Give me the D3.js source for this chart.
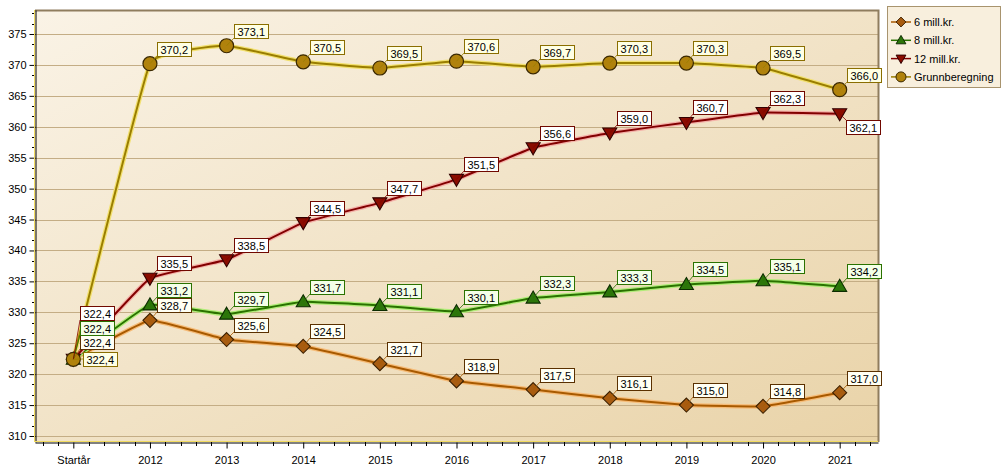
<!DOCTYPE html>
<html><head><meta charset="utf-8">
<script src="https://cdn.jsdelivr.net/npm/d3@7"></script>
<style>
html,body{margin:0;padding:0;background:#fff;}
svg{display:block;font-family:"Liberation Sans",Arial,sans-serif;}
</style></head>
<body>
<svg id="c" width="1008" height="470"></svg>
<script>
const categories = ["Startår","2012","2013","2014","2015","2016","2017","2018","2019","2020","2021"];
const seriesNames = ["6 mill.kr.","8 mill.kr.","12 mill.kr.","Grunnberegning"];
const values6  = [322.4,328.7,325.6,324.5,321.7,318.9,317.5,316.1,315.0,314.8,317.0];
const values8  = [322.4,331.2,329.7,331.7,331.1,330.1,332.3,333.3,334.5,335.1,334.2];
const values12 = [322.4,335.5,338.5,344.5,347.7,351.5,356.6,359.0,360.7,362.3,362.1];
const valuesG  = [322.4,370.2,373.1,370.5,369.5,370.6,369.7,370.3,370.3,369.5,366.0];
const yTicks = [310,315,320,325,330,335,340,345,350,355,360,365,370,375];
const fmt = v => v.toFixed(1).replace(".", ",");

const styles = [
  {line:"#a85a00", glow:"#f6bc78", fill:"#a85c10", stroke:"#3c2000", sym:"diamond", boxFill:"#fffff4", boxStroke:"#5a3000"},
  {line:"#2a7200", glow:"#b0ec78", fill:"#2c760a", stroke:"#0c2c00", sym:"up", boxFill:"#f4ffe8", boxStroke:"#2a7200"},
  {line:"#820000", glow:"#f4b0a8", fill:"#8a0c00", stroke:"#300000", sym:"down", boxFill:"#ffffff", boxStroke:"#700800"},
  {line:"#9a7e00", glow:"#f2e070", fill:"#b0820c", stroke:"#3a2800", sym:"circle", boxFill:"#ffffe4", boxStroke:"#8a6e00"}
];
const allValues = [values6, values8, values12, valuesG];
// label placement exceptions (layout only)
const labelBelow = [{series:2, index:10}];

const svg = d3.select("#c");
const L = 35, R = 878, T = 10, B = 442;
const x = d3.scalePoint().domain(categories).range([L, R]).padding(0.5);
const y = d3.scaleLinear().domain([309.03, 378.88]).range([B, T]);

const defs = svg.append("defs");
const grad = defs.append("linearGradient").attr("id","bg").attr("x1","0").attr("y1","0").attr("x2","1").attr("y2","1");
grad.append("stop").attr("offset","0").attr("stop-color","#faf3e6");
grad.append("stop").attr("offset","1").attr("stop-color","#e9d3a8");

svg.append("rect").attr("x",L).attr("y",T).attr("width",R-L).attr("height",B-T).attr("fill","url(#bg)");

// grid
svg.append("g").selectAll("line").data(yTicks).join("line")
  .attr("x1",L).attr("x2",R).attr("y1",d=>Math.round(y(d))+0.5).attr("y2",d=>Math.round(y(d))+0.5)
  .attr("stroke","#c4ad85").attr("stroke-width",1);

// border top/right
svg.append("path").attr("d",`M${L},${T+0.5}H${R+0.5}V${B}`).attr("fill","none").attr("stroke","#8f7d5e").attr("stroke-width",2);

// y axis
const yAxis = svg.append("g").attr("transform",`translate(${L+0.5},0)`)
  .call(d3.axisLeft(y).tickValues(yTicks).tickSize(6).tickSizeOuter(0).tickPadding(3).tickFormat(d3.format("d")));
yAxis.select(".domain").attr("stroke","#000");
yAxis.selectAll("text").attr("font-size",11).attr("fill","#000").attr("font-family","Liberation Sans, Arial, sans-serif");
const yMinor = [];
{
  const st = 5/3;
  for (let k = -3; k <= 45; k++) {
    const v = 310 + k*st;
    if (v < 309.03 || v > 378.88) continue;
    if (Math.abs(k % 3) === 0) continue;
    yMinor.push(v);
  }
}
svg.append("g").selectAll("line").data(yMinor).join("line")
  .attr("x1",L-3).attr("x2",L).attr("y1",d=>Math.round(y(d))+0.5).attr("y2",d=>Math.round(y(d))+0.5).attr("stroke","#000");
svg.append("line").attr("x1",L-0.5).attr("x2",L-0.5).attr("y1",T).attr("y2",B).attr("stroke","#f2dc60").attr("stroke-width",1);

// x axis
const xAxis = svg.append("g").attr("transform",`translate(0,${B+0.5})`)
  .call(d3.axisBottom(x).tickSize(6).tickSizeOuter(0).tickPadding(8));
xAxis.select(".domain").attr("stroke","#000");
xAxis.selectAll("text").attr("font-size",11).attr("fill","#000").attr("font-family","Liberation Sans, Arial, sans-serif");
const step = x.step();
const xMinor = [];
for (let k = -3; k <= 53; k++) {
  const px = x(categories[0]) + k*step/5;
  if (px <= L+1 || px >= R) continue;
  if (k % 5 === 0) continue;
  xMinor.push(px);
}
svg.append("g").selectAll("line").data(xMinor).join("line")
  .attr("x1",d=>Math.round(d)+0.5).attr("x2",d=>Math.round(d)+0.5).attr("y1",B).attr("y2",B+4).attr("stroke","#000");
svg.append("line").attr("x1",L).attr("x2",R).attr("y1",B-0.5).attr("y2",B-0.5).attr("stroke","#f2dc60").attr("stroke-width",1);

// lines
const lineGen = d3.line().x((d,i)=>x(categories[i])).y(d=>y(d)).curve(d3.curveCardinal.tension(0.75));
const gLines = svg.append("g");
allValues.forEach((vals, s) => {
  gLines.append("path").attr("d", lineGen(vals)).attr("fill","none").attr("stroke",styles[s].glow).attr("stroke-width",4.5).attr("stroke-linejoin","round");
  gLines.append("path").attr("d", lineGen(vals)).attr("fill","none").attr("stroke",styles[s].line).attr("stroke-width",2).attr("stroke-linejoin","round");
});

// markers
function symPath(sym){
  if (sym==="diamond") return "M0,-7L7,0L0,7L-7,0Z";
  if (sym==="up") return "M0,-7L7,5L-7,5Z";
  if (sym==="down") return "M0,7L7,-5L-7,-5Z";
  return null;
}
const gMarks = svg.append("g");
allValues.forEach((vals, s) => {
  const st = styles[s];
  vals.forEach((v,i) => {
    const px = x(categories[i]), py = y(v);
    if (st.sym === "circle") {
      gMarks.append("circle").attr("cx",px).attr("cy",py).attr("r",7).attr("fill",st.fill).attr("stroke",st.stroke).attr("stroke-width",1.2);
    } else {
      gMarks.append("path").attr("d",symPath(st.sym)).attr("transform",`translate(${px},${py})`).attr("fill",st.fill).attr("stroke",st.stroke).attr("stroke-width",1.1);
    }
  });
});

// labels
const gLab = svg.append("g");
const boxH = 14;
function drawLabel(s, i, v, bx, by, cx, cy, px, py){
  const st = styles[s];
  const t = fmt(v);
  const tmp = gLab.append("text").attr("font-size",11).text(t);
  const w = Math.ceil(tmp.node().getComputedTextLength()) + 6;
  tmp.remove();
  gLab.append("line").attr("x1",px).attr("y1",py).attr("x2",cx).attr("y2",cy).attr("stroke",st.line).attr("stroke-width",0.8);
  gLab.append("rect").attr("x",bx+0.5).attr("y",by+0.5).attr("width",w).attr("height",boxH).attr("fill",st.boxFill).attr("stroke",st.boxStroke).attr("stroke-width",1);
  gLab.append("text").attr("x",bx+3.5).attr("y",by+11.5).attr("font-size",11).attr("fill","#000").text(t);
}
categories.forEach((c,i) => {
  const px = x(c);
  const vals = allValues.map(a=>a[i]);
  const allSame = vals.every(v=>v===vals[0]);
  allValues.forEach((a,s) => {
    const v = a[i], py = y(v);
    let bx = Math.round(px+7), by = Math.round(py-22), cx = bx, cy = by+boxH;
    if (allSame) {
      if (s === allValues.length-1) { bx = Math.round(px+10); by = Math.round(py-7); cx = bx; cy = by+7; }
      else { by = Math.round(py-24 - s*(boxH+0.5)); cy = by+boxH; }
    } else if (labelBelow.some(o=>o.series===s && o.index===i)) {
      bx = Math.round(px+6); by = Math.round(py+6); cx = bx; cy = by;
    }
    drawLabel(s, i, v, bx, by, cx, cy, px, py);
  });
});

// legend
const lg = svg.append("g");
lg.append("rect").attr("x",887.5).attr("y",6.5).attr("width",113).attr("height",81).attr("fill","#f8efdd").attr("stroke","#a8946e");
seriesNames.forEach((n,s) => {
  const st = styles[s];
  const ly = 22 + s*18.3;
  lg.append("line").attr("x1",891).attr("x2",911).attr("y1",ly).attr("y2",ly).attr("stroke",st.line).attr("stroke-width",1.5);
  if (st.sym==="circle") lg.append("circle").attr("cx",901).attr("cy",ly).attr("r",5).attr("fill",st.fill).attr("stroke",st.stroke);
  else lg.append("path").attr("d",symPath(st.sym)).attr("transform",`translate(901,${ly}) scale(0.7)`).attr("fill",st.fill).attr("stroke",st.stroke).attr("stroke-width",1.4);
  lg.append("text").attr("x",914).attr("y",ly+4).attr("font-size",11).attr("fill","#000").text(n);
});
</script>
</body></html>
